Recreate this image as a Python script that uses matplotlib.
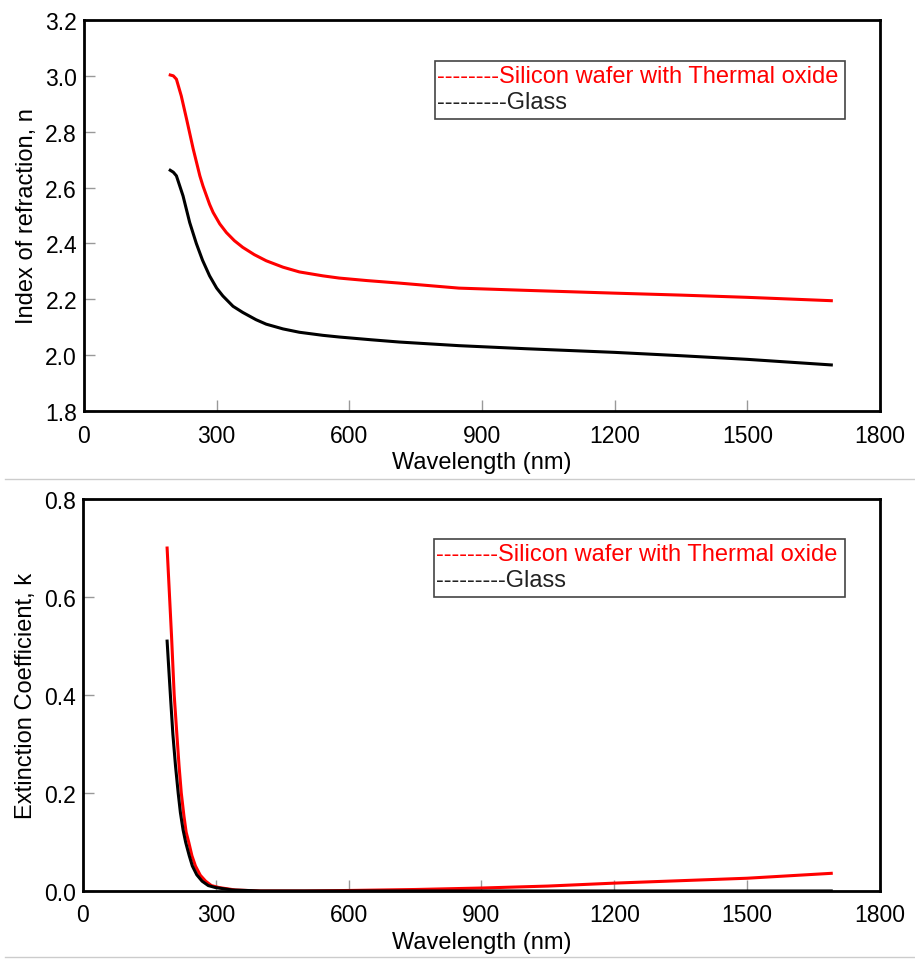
import matplotlib
matplotlib.use("Agg")
import matplotlib.pyplot as plt
from matplotlib.lines import Line2D
from matplotlib.patches import Rectangle

plt.rcParams['font.family'] = ['Liberation Sans', 'DejaVu Sans']

# index of refraction, n
wl_n = [195, 202, 209, 220, 232, 247, 262, 269, 284, 292, 307, 322, 340, 359, 385, 412, 450, 487, 540,
        577, 640, 713, 848, 1000, 1200, 1350, 1500, 1690]
n_si = [3.003, 3.0, 2.988, 2.928, 2.845, 2.738, 2.642, 2.606, 2.54, 2.511, 2.47, 2.439, 2.41, 2.386, 2.36,
        2.338, 2.315, 2.298, 2.284, 2.276, 2.267, 2.258, 2.24, 2.232, 2.222, 2.215, 2.207, 2.195]
wl_g = [195, 202, 209, 224, 239, 254, 268, 284, 300, 314, 337, 359, 389, 412, 450, 487, 540, 577, 650,
        713, 848, 1000, 1200, 1350, 1500, 1690]
n_glass = [2.662, 2.655, 2.642, 2.57, 2.475, 2.40, 2.34, 2.284, 2.24, 2.212, 2.175, 2.153, 2.127, 2.111,
           2.094, 2.082, 2.071, 2.065, 2.055, 2.047, 2.034, 2.023, 2.01, 1.998, 1.985, 1.965]

# extinction coefficient, k
wl_k_si = [190, 195, 200, 206, 212, 217, 222, 228, 233, 239, 246, 254, 265, 277, 290, 307, 344, 400, 500,
           600, 750, 900, 1050, 1200, 1350, 1500, 1690]
k_si = [0.70, 0.61, 0.52, 0.40, 0.32, 0.255, 0.20, 0.153, 0.12, 0.099, 0.072, 0.051, 0.032, 0.020, 0.011,
        0.007, 0.002, 0.0, 0.0, 0.001, 0.003, 0.006, 0.010, 0.016, 0.021, 0.026, 0.036]
wl_k_g = [190, 194, 198, 203, 209, 215, 220, 226, 232, 240, 247, 257, 269, 283, 299, 337, 400, 600, 900,
          1200, 1500, 1690]
k_glass = [0.51, 0.45, 0.391, 0.32, 0.255, 0.20, 0.16, 0.125, 0.099, 0.072, 0.051, 0.033, 0.020, 0.011,
           0.007, 0.002, 0.0, 0.0, 0.0, 0.0, 0.0, 0.0]

fig = plt.figure(figsize=(9.15, 9.62), dpi=100)
ax1 = fig.add_axes([0.0918, 0.5717, 0.8699, 0.4065])
ax2 = fig.add_axes([0.0907, 0.0728, 0.8710, 0.4074])

def style(ax, ylim, yticks, ylabel, box_y):
    ax.set_xlim(0, 1800)
    ax.set_ylim(*ylim)
    ax.set_xticks([0, 300, 600, 900, 1200, 1500, 1800])
    ax.set_yticks(yticks)
    ax.set_yticklabels(['%.1f' % v for v in yticks])
    ax.tick_params(direction='in', length=8, width=1, color='#999999',
                   labelsize=16.5)
    ax.tick_params(axis='x', pad=9)
    ax.tick_params(axis='y', pad=5)
    for s in ax.spines.values():
        s.set_linewidth(2)
    ax.set_xlabel('Wavelength (nm)', fontsize=17, labelpad=3)
    ax.set_ylabel(ylabel, fontsize=17, labelpad=5)
    # legend-like box with dashed prefixes, as in the original
    ax.add_patch(Rectangle((0.441, box_y), 0.515, 0.148, transform=ax.transAxes,
                           fc='white', ec='#444444', lw=1.2, zorder=3))
    ax.text(0.4435, box_y + 0.137, '--------Silicon wafer with Thermal oxide',
            transform=ax.transAxes, fontsize=17, va='top', ha='left', color='red', zorder=4)
    ax.text(0.4435, box_y + 0.072, '---------Glass',
            transform=ax.transAxes, fontsize=17, va='top', ha='left', color='#222222', zorder=4)

ax1.plot(wl_n, n_si, color='red', lw=2.2)
ax1.plot(wl_g, n_glass, color='black', lw=2.2)
style(ax1, (1.8, 3.2), [1.8, 2.0, 2.2, 2.4, 2.6, 2.8, 3.0, 3.2], 'Index of refraction, n', 0.747)

ax2.plot(wl_k_si, k_si, color='red', lw=2.2)
ax2.plot(wl_k_g, k_glass, color='black', lw=2.2)
style(ax2, (0, 0.8), [0.0, 0.2, 0.4, 0.6, 0.8], 'Extinction Coefficient, k', 0.750)

fig.add_artist(Line2D([0.006, 1.0], [0.501, 0.501], color='#cccccc', lw=1))
fig.add_artist(Line2D([0.006, 1.0], [0.004, 0.004], color='#cccccc', lw=1))

fig.savefig('out.png', dpi=100)
